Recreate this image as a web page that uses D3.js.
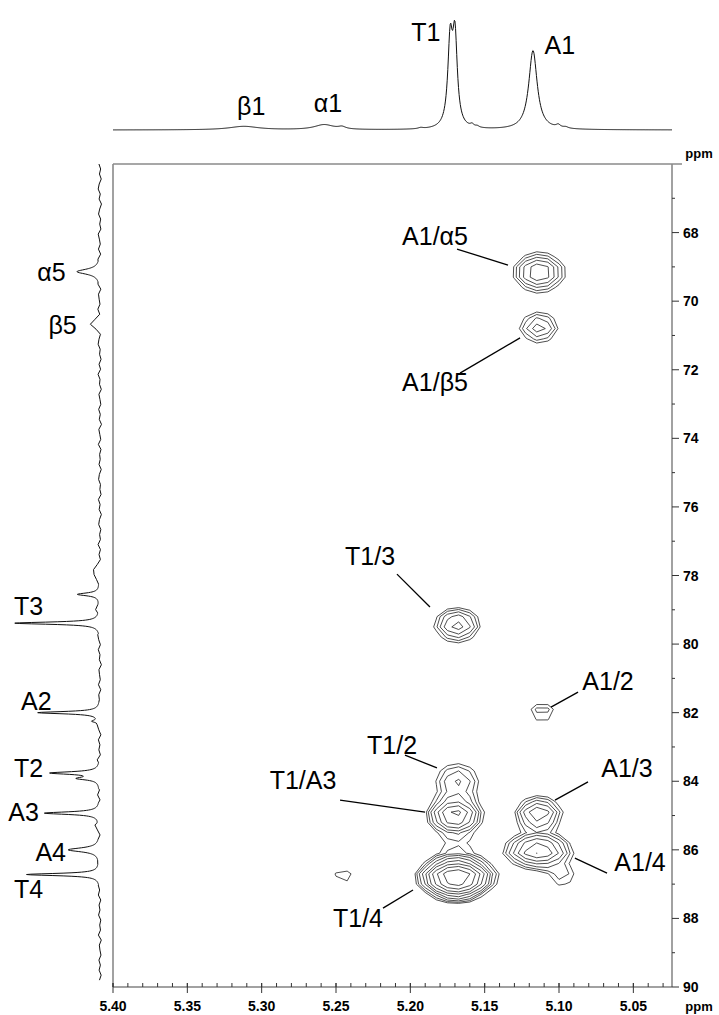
<!DOCTYPE html>
<html>
<head>
<meta charset="utf-8">
<script src="https://cdn.jsdelivr.net/npm/d3@7"></script>
<style>
  body { margin: 0; background: #fff; }
  svg { display: block; }
  text { font-family: "Liberation Sans", Arial, Helvetica, sans-serif; fill: #000; }
</style>
</head>
<body>
<svg id="chart" width="719" height="1015"></svg>
<script>
// ---------------- axes ----------------
const xDomain = [5.40, 5.024];          // 1H, ppm (reversed)
const yDomain = [66, 90];               // 13C, ppm (downwards)
const xTickValues = [5.40, 5.35, 5.30, 5.25, 5.20, 5.15, 5.10, 5.05];
const yTickValues = [68, 70, 72, 74, 76, 78, 80, 82, 84, 86, 88, 90];

// ---------------- 1H projection (top) ----------------
// [shift ppm, height (% of T1), half width ppm]
const protonPeaks = [
  [5.312, 3.2, 0.012],
  [5.258, 4.6, 0.008],
  [5.246, 2.0, 0.003],
  [5.193, 1.0, 0.002],
  [5.1732, 75, 0.0019],
  [5.1700, 79, 0.0019],
  [5.1585, 2.4, 0.0015],
  [5.1550, 1.3, 0.0015],
  [5.1175, 72, 0.0034],
  [5.1005, 2.6, 0.0018],
  [5.0955, 1.2, 0.0020]
];
const protonLabels = [
  { text: "β1", ppm: 5.307, level: 22 },
  { text: "α1", ppm: 5.2554, level: 24.5 },
  { text: "T1", ppm: 5.1895, level: 89 },
  { text: "A1", ppm: 5.0995, level: 77 }
];

// ---------------- 13C projection (left) ----------------
// [shift ppm, height (% of T3), half width ppm]
const carbonPeaks = [
  [69.14, 27, 0.09],
  [70.65, 12, 0.10],
  [77.90, 11, 0.10],
  [78.55, 26, 0.05],
  [78.95, 6, 0.05],
  [79.39, 100, 0.04],
  [82.00, 73, 0.04],
  [82.25, 8, 0.04],
  [83.76, 57, 0.045],
  [83.92, 24, 0.05],
  [84.93, 65, 0.045],
  [85.30, 6, 0.05],
  [86.00, 37, 0.07],
  [86.72, 86, 0.04]
];
// baseline noise of the 13C trace, from 66.0 to 89.8 ppm
const carbonNoise = [1.2,-0.8,0.6,-1.5,0.9,2.1,-0.4,1.0,-1.8,0.3,1.6,-0.9,0.2,-1.2,1.9,0.5,-0.7,1.3,-1.6,0.8,
  0.1,-1.1,2.0,-0.3,0.7,-1.9,1.1,0.4,-0.6,1.7,-1.3,0.9,-0.2,1.4,-1.7,0.6,1.8,-0.5,0.3,-1.4,
  1.0,-0.8,2.2,-0.1,0.5,-1.6,1.2,0.0,-1.0,1.5,-0.4,0.8,-1.8,1.3,0.2,-0.9,1.9,-1.2,0.4,-0.3,
  1.1,-1.5,0.7,1.6,-0.6,0.1,-1.3,1.8,-0.2,0.9,-1.7,0.5,1.4,-1.1,0.3,-0.7,2.0,-0.9,0.6,-1.4,
  1.2,0.2,-0.5,1.7,-1.6,0.8,-0.1,1.3,-1.2,0.4,1.9,-0.8,0.0,-1.5,1.1,0.7,-1.0,1.6,-0.3,0.5,
  -1.9,1.0,0.3,-0.6,1.5,-1.3,0.9,-0.2,1.8,-1.1,0.4,-0.7,1.2,0.6,-1.6,1.4,-0.4,0.8,-1.2,2.1,
  -0.5,0.2,-1.8,1.0,0.5,-0.9,1.7,-1.4,0.7,0.1,-1.1,1.3,-0.3,0.9,-1.7,1.6,-0.6,0.3,-1.0,1.9,
  -0.8,0.6,-1.5,1.1,0.4,-0.4,1.4,-1.3,0.8,-0.2,1.5,-1.1,0.2,-0.7,1.8,-1.6,0.7,0.0,-1.2,1.2,
  -0.5,1.0,-1.4,0.6];
const carbonRange = [66.0, 89.8];
const carbonLabels = [
  { text: "α5", ppm: 69.15, level: 57 },
  { text: "β5", ppm: 70.70, level: 44 },
  { text: "T3", ppm: 78.90, level: 84 },
  { text: "A2", ppm: 81.65, level: 75 },
  { text: "T2", ppm: 83.62, level: 84 },
  { text: "A3", ppm: 84.90, level: 90 },
  { text: "A4", ppm: 86.06, level: 58 },
  { text: "T4", ppm: 87.15, level: 84 }
];

// ---------------- 2D cross peaks ----------------
// [1H ppm, 13C ppm, intensity, 1H width, 13C width]
const crossPeaks = [
  [5.1135, 69.16, 3.75, 0.0108, 0.35],   // A1/α5
  [5.1135, 70.77, 2.60, 0.0092, 0.31],   // A1/β5
  [5.1685, 79.44, 3.30, 0.0100, 0.32],   // T1/3
  [5.1113, 81.98, 1.65, 0.0080, 0.26],   // A1/2
  [5.1685, 84.01, 2.30, 0.0110, 0.40],   // T1/2
  [5.1700, 84.98, 5.00, 0.0103, 0.28],   // T1/A3
  [5.1690, 86.80, 10.7, 0.0127, 0.28],   // T1/4
  [5.1137, 84.95, 3.75, 0.0098, 0.305],  // A1/3
  [5.1140, 86.03, 5.00, 0.0131, 0.29],   // A1/4
  [5.0975, 86.80, 1.55, 0.0080, 0.25],
  [5.1690, 87.30, 1.30, 0.0100, 0.20],
  [5.1690, 85.90, 1.15, 0.0120, 0.60],
  [5.2450, 86.78, 1.25, 0.0095, 0.30]
];
const contourBase = 1.0, contourFactor = 1.3, contourCount = 10;

// cross-peak labels: text anchor and leader line, in ppm
const crossLabels = [
  { text: "A1/α5", at: [5.1834, 68.10], from: [5.1686, 68.48], to: [5.1343, 68.95] },
  { text: "A1/β5", at: [5.1834, 72.36], from: [5.1666, 72.10], to: [5.1262, 71.07] },
  { text: "T1/3",  at: [5.2271, 77.43], from: [5.2090, 77.96], to: [5.1868, 78.92] },
  { text: "A1/2",  at: [5.0670, 81.08], from: [5.0872, 81.40], to: [5.1054, 81.84] },
  { text: "T1/2",  at: [5.2123, 82.94], from: [5.2036, 83.24], to: [5.1821, 83.61] },
  { text: "T1/A3", at: [5.2722, 83.96], from: [5.2473, 84.55], to: [5.1901, 84.90] },
  { text: "T1/4",  at: [5.2352, 87.99], from: [5.2184, 87.70], to: [5.1982, 87.17] },
  { text: "A1/3",  at: [5.0543, 83.61], from: [5.0805, 84.02], to: [5.1027, 84.55] },
  { text: "A1/4",  at: [5.0455, 86.36], from: [5.0893, 86.24], to: [5.0677, 86.68] }
];

// ---------------- layout ----------------
const frame = { left: 113, right: 672, top: 164, bottom: 987 };
const labelSize = 25;
const svg = d3.select("#chart");

const x = d3.scaleLinear().domain(xDomain).range([frame.left, frame.right]);
const y = d3.scaleLinear().domain(yDomain).range([frame.top, frame.bottom]);
const topY = d3.scaleLinear().domain([0, 100]).range([130, 20]);
const leftX = d3.scaleLinear().domain([0, 100]).range([100, 15]);

const lorentz = (peaks, p) => d3.sum(peaks, ([c, h, w]) => h / (1 + ((p - c) / w) ** 2));

// ---- 1H trace ----
const hStep = 0.0004;
const hPoints = d3.range(0, Math.round((xDomain[0] - xDomain[1]) / hStep) + 1)
  .map(i => xDomain[0] - i * hStep)
  .map(p => [p, lorentz(protonPeaks, p)]);
svg.append("path")
  .attr("d", d3.line().x(d => x(d[0])).y(d => topY(d[1]))(hPoints))
  .attr("fill", "none").attr("stroke", "#111").attr("stroke-width", 1);

svg.append("g").selectAll("text").data(protonLabels).join("text")
  .attr("x", d => x(d.ppm)).attr("y", d => topY(d.level))
  .attr("dy", "0.36em").attr("text-anchor", "middle")
  .attr("font-size", labelSize).text(d => d.text);

// ---- 13C trace ----
const noiseStep = (carbonRange[1] - carbonRange[0]) / (carbonNoise.length - 1);
const nearPeak = p => carbonPeaks.some(([c, h]) => h > 20 && Math.abs(p - c) < 0.3);
const cPts = [];
carbonNoise.forEach((n, k) => {
  const p = carbonRange[0] + k * noiseStep;
  if (!nearPeak(p)) cPts.push([p, lorentz(carbonPeaks, p) + n]);
});
carbonPeaks.filter(d => d[1] > 20).forEach(([c]) => {
  d3.range(-30, 31).forEach(k => cPts.push([c + k * 0.01, null]));
});
const cTrace = cPts
  .map(([p, v]) => [p, v === null ? lorentz(carbonPeaks, p) : v])
  .sort((a, b) => a[0] - b[0]);
svg.append("path")
  .attr("d", d3.line().x(d => leftX(d[1])).y(d => y(d[0]))(cTrace))
  .attr("fill", "none").attr("stroke", "#111").attr("stroke-width", 1);

svg.append("g").selectAll("text").data(carbonLabels).join("text")
  .attr("x", d => leftX(d.level)).attr("y", d => y(d.ppm))
  .attr("dy", "0.36em").attr("text-anchor", "middle")
  .attr("font-size", labelSize).text(d => d.text);

// ---- 2D contour map ----
const gdx = 0.0075, gdy = 0.3;
const nx = Math.ceil((xDomain[0] - xDomain[1]) / gdx) + 2;
const ny = Math.ceil((yDomain[1] - yDomain[0]) / gdy) + 2;
const values = new Array(nx * ny);
for (let j = 0; j < ny; j++) {
  const cy = yDomain[0] + j * gdy;
  for (let i = 0; i < nx; i++) {
    const hx = xDomain[0] - i * gdx;
    values[j * nx + i] = d3.sum(crossPeaks, ([px, py, a, sx, sy]) =>
      a * Math.exp(-0.5 * (((hx - px) / sx) ** 2 + ((cy - py) / sy) ** 2)));
  }
}
const levels = d3.range(contourCount).map(k => contourBase * contourFactor ** k);
const rings = d3.contours().size([nx, ny]).thresholds(levels)(values);
const gridToPx = d3.geoTransform({
  point(gx, gy) {
    this.stream.point(x(xDomain[0] - (gx - 0.5) * gdx), y(yDomain[0] + (gy - 0.5) * gdy));
  }
});
svg.append("clipPath").attr("id", "plotClip").append("rect")
  .attr("x", frame.left).attr("y", frame.top)
  .attr("width", frame.right - frame.left).attr("height", frame.bottom - frame.top);
svg.append("g").attr("clip-path", "url(#plotClip)")
  .selectAll("path").data(rings).join("path")
  .attr("d", d3.geoPath(gridToPx))
  .attr("fill", "none").attr("stroke", "#222").attr("stroke-width", 0.8)
  .attr("stroke-linejoin", "round");

// ---- cross-peak labels ----
const ann = svg.append("g");
ann.selectAll("line").data(crossLabels).join("line")
  .attr("x1", d => x(d.from[0])).attr("y1", d => y(d.from[1]))
  .attr("x2", d => x(d.to[0])).attr("y2", d => y(d.to[1]))
  .attr("stroke", "#000").attr("stroke-width", 1.3);
ann.selectAll("text").data(crossLabels).join("text")
  .attr("x", d => x(d.at[0])).attr("y", d => y(d.at[1]))
  .attr("dy", "0.36em").attr("text-anchor", "middle")
  .attr("font-size", labelSize).text(d => d.text);

// ---- frame and axes ----
const axisGrey = "#8a8a8a";
svg.append("line").attr("x1", frame.left).attr("x2", frame.right + 10)
  .attr("y1", frame.top).attr("y2", frame.top)
  .attr("stroke", axisGrey).attr("stroke-width", 1.6);
svg.append("line").attr("x1", frame.left).attr("x2", frame.left)
  .attr("y1", frame.top).attr("y2", frame.bottom)
  .attr("stroke", axisGrey).attr("stroke-width", 1.6);

// right 13C axis
const yAxis = svg.append("g").attr("transform", `translate(${frame.right},0)`);
yAxis.append("line").attr("y1", frame.top).attr("y2", frame.bottom)
  .attr("stroke", axisGrey).attr("stroke-width", 1.6);
const yMinor = d3.range(67, 90, 2);
yAxis.selectAll(".minor").data(yMinor).join("line").attr("class", "minor")
  .attr("x1", 0).attr("x2", 3).attr("y1", d => y(d)).attr("y2", d => y(d))
  .attr("stroke", "#333").attr("stroke-width", 1);
yAxis.selectAll(".major").data(yTickValues).join("line").attr("class", "major")
  .attr("x1", 0).attr("x2", 7).attr("y1", d => y(d)).attr("y2", d => y(d))
  .attr("stroke", "#333").attr("stroke-width", 1);
yAxis.selectAll("text").data(yTickValues).join("text")
  .attr("x", 11).attr("y", d => y(d)).attr("dy", "0.36em")
  .attr("font-size", 14).attr("font-weight", "bold").text(d => d);

// bottom 1H axis
const xAxis = svg.append("g").attr("transform", `translate(0,${frame.bottom})`);
xAxis.append("line").attr("x1", frame.left).attr("x2", frame.right)
  .attr("stroke", "#444").attr("stroke-width", 1.2);
const xMinor = d3.range(0, 38).map(k => +(5.40 - k * 0.01).toFixed(2));
xAxis.selectAll(".minor").data(xMinor).join("line").attr("class", "minor")
  .attr("x1", d => x(d)).attr("x2", d => x(d)).attr("y1", 0).attr("y2", -4)
  .attr("stroke", "#333").attr("stroke-width", 1);
xAxis.selectAll(".major").data(xTickValues).join("line").attr("class", "major")
  .attr("x1", d => x(d)).attr("x2", d => x(d)).attr("y1", -4).attr("y2", 6)
  .attr("stroke", "#333").attr("stroke-width", 1);
xAxis.selectAll("text").data(xTickValues).join("text")
  .attr("x", d => x(d)).attr("y", 24).attr("text-anchor", "middle")
  .attr("font-size", 14).attr("font-weight", "bold").text(d => d.toFixed(2));

// unit labels
svg.append("text").attr("x", 699).attr("y", frame.top - 6).attr("text-anchor", "middle")
  .attr("font-size", 13).attr("font-weight", "bold").text("ppm");
svg.append("text").attr("x", 699).attr("y", frame.bottom + 24).attr("text-anchor", "middle")
  .attr("font-size", 13).attr("font-weight", "bold").text("ppm");
</script>
</body>
</html>
